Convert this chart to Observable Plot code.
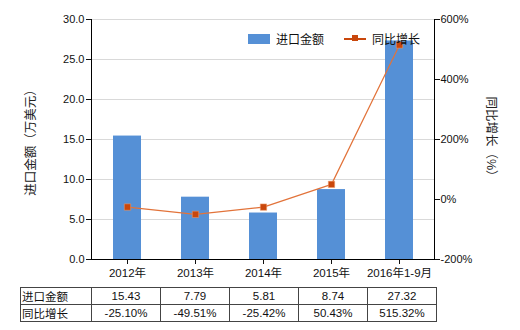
<!DOCTYPE html>
<html><head><meta charset="utf-8">
<script src="https://cdn.jsdelivr.net/npm/d3@7"></script>
<script src="https://cdn.jsdelivr.net/npm/@observablehq/plot@0.6"></script>
<style>
body{margin:0;background:#fff;}
#wrap{position:relative;width:520px;height:330px;font-family:"Liberation Sans","Noto Sans CJK SC",sans-serif;font-size:11px;color:#111;}
#legend{position:absolute;left:248px;top:30px;display:flex;align-items:center;font-size:12px;}
#legend .sw{width:22px;height:10px;background:#5590d6;margin-right:6px;}
#legend .ln{position:relative;width:22px;height:2px;background:#c9470c;margin:0 6px 0 20px;}
#legend .ln i{position:absolute;left:8px;top:-2.5px;width:6px;height:6px;background:#c9470c;}
table{position:absolute;left:20px;top:287px;border-collapse:collapse;font-size:11.5px;}
td{border:1px solid #444;height:16px;padding:0;text-align:center;width:68px;}
td.h{text-align:left;width:69px;padding-left:1px;}
</style></head>
<body><div id="wrap"></div>
<script>
const years = ["2012年","2013年","2014年","2015年","2016年1-9月"];
const amounts = [15.43, 7.79, 5.81, 8.74, 27.32];
const growth = [-25.10, -49.51, -25.42, 50.43, 515.32];
const growthLabels = ["-25.10%","-49.51%","-25.42%","50.43%","515.32%"];
const leftTicks = [0, 5, 10, 15, 20, 25, 30];
const rightTicks = [-200, 0, 200, 400, 600];
const leftLabel = "进口金额（万美元）";
const rightLabel = "同比增长（%）";
const seriesNames = ["进口金额", "同比增长"];

const data = years.map((y, i) => ({year: y, amount: amounts[i], growth: growth[i]}));
// map right-axis percent domain [-200,600] onto left domain [0,30]
const toLeft = p => (p + 200) / 800 * 30;
const fromLeft = v => Math.round(v / 30 * 800 - 200);

const chart = Plot.plot({
  width: 520, height: 330,
  marginTop: 19, marginBottom: 71, marginLeft: 91, marginRight: 86,
  style: {fontFamily: '"Liberation Sans","Noto Sans CJK SC",sans-serif', fontSize: "11px", background: "transparent", color: "#111"},
  x: {domain: years, paddingInner: 0.59, paddingOuter: 0.295, label: null},
  y: {domain: [0, 30], label: null},
  marks: [
    Plot.gridY(leftTicks.slice(1), {stroke: "#d9d9d9", strokeOpacity: 1}),
    Plot.barY(data, {x: "year", y: "amount", fill: "#5590d6"}),
    Plot.line(data, {x: "year", y: d => toLeft(d.growth), stroke: "#e2733a", strokeWidth: 1.2}),
    Plot.dot(data, {x: "year", y: d => toLeft(d.growth), symbol: "square", r: 3.6, fill: "#c9470c", stroke: "#f0a070", strokeWidth: 0.5}),
    Plot.axisY(leftTicks, {anchor: "left", tickFormat: d => d.toFixed(1), tickSize: 5, tickPadding: 2, label: null}),
    Plot.axisY(rightTicks.map(toLeft), {anchor: "right", tickFormat: v => fromLeft(v) + "%", tickSize: 5, tickPadding: 1, label: null}),
    Plot.axisX({anchor: "bottom", tickSize: 5, tickPadding: 4, label: null, fontSize: "11.5px"}),
    Plot.ruleY([0], {stroke: "#000"}),
    Plot.frame({anchor: "left", stroke: "#000"}),
    Plot.frame({anchor: "right", stroke: "#000"}),
    Plot.text([leftLabel], {frameAnchor: "left", textAnchor: "middle", dx: -61, rotate: -90, fontSize: 12.5, fill: "#222"}),
    Plot.text([rightLabel], {frameAnchor: "right", textAnchor: "middle", dx: 56, rotate: 90, fontSize: 12.5, fill: "#222"})
  ]
});
const wrap = document.getElementById("wrap");
wrap.appendChild(chart);
chart.style.position = "absolute"; chart.style.left = "0"; chart.style.top = "0";

const legend = document.createElement("div");
legend.id = "legend";
legend.innerHTML = `<span class="sw"></span><span>${seriesNames[0]}</span><span class="ln"><i></i></span><span>${seriesNames[1]}</span>`;
wrap.appendChild(legend);

const table = document.createElement("table");
const r1 = "<tr><td class='h'>" + seriesNames[0] + "</td>" + amounts.map(v => `<td>${v.toFixed(2)}</td>`).join("") + "</tr>";
const r2 = "<tr><td class='h'>" + seriesNames[1] + "</td>" + growthLabels.map(v => `<td>${v}</td>`).join("") + "</tr>";
table.innerHTML = r1 + r2;
wrap.appendChild(table);
</script></body></html>
